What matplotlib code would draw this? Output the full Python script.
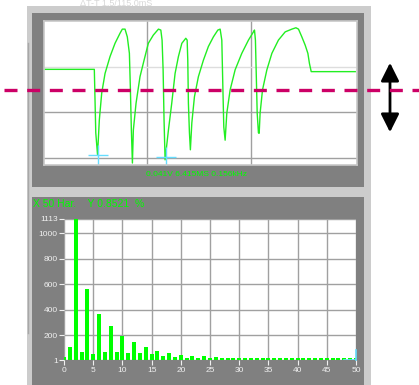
import matplotlib
matplotlib.use("Agg")
import matplotlib.pyplot as plt
from matplotlib.patches import Rectangle, FancyArrowPatch

plt.rcParams['font.family'] = ['Liberation Sans', 'DejaVu Sans']

# --- scope trace (time in divisions, level in divisions) ---
trace_t = [0.022, 0.496, 0.510, 0.527, 0.544, 0.567, 0.599, 0.647, 0.695, 0.743,
           0.765, 0.791, 0.813, 0.833, 0.842, 0.852, 0.862, 0.871, 0.897, 0.935,
           0.974, 1.015, 1.063, 1.112, 1.135, 1.147, 1.157, 1.166, 1.176, 1.208,
           1.240, 1.272, 1.304, 1.337, 1.375, 1.388, 1.394, 1.400, 1.410, 1.419,
           1.433, 1.458, 1.496, 1.544, 1.592, 1.640, 1.683, 1.705, 1.721, 1.731,
           1.740, 1.753, 1.769, 1.801, 1.849, 1.913, 1.977, 2.025, 2.035, 2.044,
           2.051, 2.061, 2.073, 2.080, 2.089, 2.112, 2.154, 2.202, 2.265, 2.330,
           2.394, 2.433, 2.458, 2.490, 2.522, 2.548, 2.563, 2.580, 3.003]
trace_v = [0.94, 0.94, -0.45, -0.93, -0.17, 0.42, 0.85, 1.22, 1.51, 1.73,
           1.82, 1.82, 1.65, 1.29, 0.56, -0.39, -1.11, -0.39, 0.20, 0.78,
           1.14, 1.51, 1.69, 1.82, 1.80, 1.58, 0.93, -0.17, -1.04, -0.39,
           0.20, 0.85, 1.22, 1.51, 1.62, 1.58, 1.14, 0.20, -0.45, -0.82,
           -0.23, 0.34, 0.78, 1.14, 1.44, 1.65, 1.80, 1.82, 1.58, 0.56,
           -0.32, -0.61, -0.02, 0.49, 0.93, 1.29, 1.58, 1.76, 1.80, 1.58,
           0.93, -0.02, -0.45, -0.46, -0.02, 0.49, 0.93, 1.29, 1.58, 1.76,
           1.82, 1.85, 1.82, 1.65, 1.47, 1.29, 1.07, 0.89, 0.89]
cursor_t = [0.535, 1.181]
cursor_v = [-0.93, -0.98]

# --- harmonic spectrum ---
harmonics = list(range(51))
amplitude = [28, 108, 1113, 70, 560, 54, 365, 70, 268, 70,
             195, 62, 145, 55, 108, 47, 78, 31, 62, 26,
             39, 21, 31, 21, 31, 21, 26, 18, 21, 21,
             21, 21, 17, 21, 17, 18, 21, 21, 17, 21,
             21, 21, 17, 17, 17, 17, 17, 17, 17, 17, 17]
y_ticks = [1, 200, 400, 600, 800, 1000, 1113]
x_ticks = list(range(0, 51, 5))

W, H = 419, 385
fig = plt.figure(figsize=(W / 100, H / 100), dpi=100)
fig.patch.set_facecolor('white')

# background panels, in pixel coordinates
bg = fig.add_axes([0, 0, 1, 1], zorder=-5)
bg.set_xlim(0, W)
bg.set_ylim(H, 0)
bg.axis('off')
bg.add_patch(Rectangle((27, 6), 344, 379, color='#CCCCCC', lw=0))
bg.add_patch(Rectangle((32, 13), 332, 174, color='#808080', lw=0))
bg.add_patch(Rectangle((32, 197), 332, 188, color='#808080', lw=0))
bg.plot([27.5, 27.5], [43, 333], color='#A8A8A8', lw=1)
bg.text(116, 3.5, 'ΔT-T 1.5/115.0mS', color='#D8D8D8', fontsize=6.5,
        ha='center', va='center')

# upper: scope trace
ax1 = fig.add_axes([44 / W, 1 - 165 / H, 313 / W, 144 / H])
ax1.set_facecolor('white')
ax1.set_xlim(0.0125, 3.02)
ax1.set_ylim(-1.153, 1.998)
for t in [1, 2]:
    ax1.axvline(t, color='#A0A0A0', lw=1)
ax1.axhline(1, color='#DDDDDD', lw=1)
ax1.axhline(0, color='#A0A0A0', lw=1)
ax1.axhline(-1, color='#A0A0A0', lw=1)
ax1.plot(trace_t, trace_v, color='#22EE22', lw=1)
ax1.plot(cursor_t, cursor_v, ls='none', marker='+', ms=14, mew=1,
         color='#66DDFF')
ax1.set_xticks([])
ax1.set_yticks([])
for s in ax1.spines.values():
    s.set_color('#C8C8C8')
    s.set_linewidth(1.2)

# lower: harmonic bars
ax2 = fig.add_axes([64 / W, 1 - 360.3 / H, 292 / W, 141.3 / H])
ax2.set_facecolor('white')
ax2.set_xlim(0, 50)
ax2.set_ylim(1, 1113)
ax2.set_xticks(x_ticks)
ax2.set_yticks(y_ticks)
ax2.grid(True, color='#A0A0A0', lw=1)
ax2.set_axisbelow(True)
ax2.bar(harmonics, amplitude, width=0.68, color='#00FF00', lw=0, zorder=3)
ax2.plot([50, 50], [1, 80], color='#66DDFF', lw=1.2, zorder=4, clip_on=False)
ax2.plot([48, 50], [6, 6], color='#66DDFF', lw=1.2, zorder=4)
ax2.tick_params(colors='#F0F0F0', labelsize=6, length=3.5, width=0.8, pad=1)
for s in ax2.spines.values():
    s.set_visible(False)

# overlay: texts, dashed level and arrow
fg = fig.add_axes([0, 0, 1, 1], zorder=10)
fg.patch.set_alpha(0)
fg.set_xlim(0, W)
fg.set_ylim(H, 0)
fg.axis('off')
fg.text(196, 174, '0.041V 6.415MS 0.156kHz', color='#00FF00', fontsize=6,
        ha='center', va='center')
fg.text(33, 204, 'X 50 Har.    Y 0.8521  %', color='#00FF00', fontsize=7.5,
        ha='left', va='center')
fg.plot([4, W], [90, 90], color='#CC0066', lw=2.4, dashes=(3.9, 2.9))
fg.add_patch(FancyArrowPatch((390, 60), (390, 135),
                             arrowstyle='<|-|>,head_length=1.1,head_width=0.55',
                             mutation_scale=10, color='black', lw=2))

fig.savefig('out.png', dpi=100)
